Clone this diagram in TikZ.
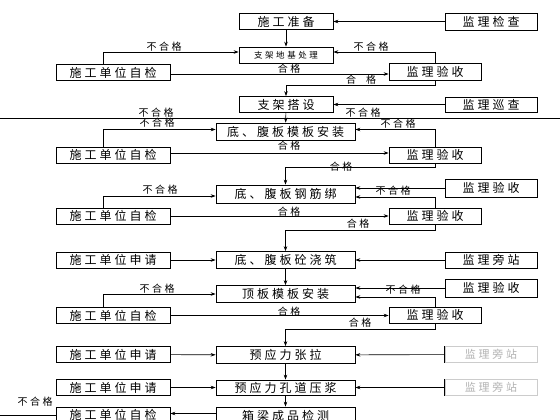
\documentclass[tikz,border=0pt]{standalone}
\usepackage{fontspec}
\setmainfont{Noto Sans CJK SC}[LetterSpace=25]
\usetikzlibrary{arrows.meta,calc}
\begin{document}
\begin{tikzpicture}[x=1pt,y=-1pt,
  bx/.style={draw,line width=0.7pt,inner sep=0pt,font=\fontsize{12}{12}\selectfont},
  cbox/.style={bx,minimum width=94pt,minimum height=16pt},
  wbox/.style={bx,minimum width=139pt,minimum height=17pt},
  lbox/.style={bx,minimum width=114pt,minimum height=16pt},
  rbox/.style={bx,minimum width=92pt,minimum height=17pt},
  fbox/.style={draw=gray!40,line width=0.5pt,text=gray!60,inner sep=0pt,minimum width=92pt,minimum height=16pt,font=\fontsize{11}{11}\selectfont},
  lbl/.style={font=\fontsize{10}{10}\selectfont,inner sep=0pt},
  arr/.style={line width=0.6pt,-{Stealth[length=5pt,width=3.5pt]}},
  ln/.style={line width=0.6pt}]
\useasboundingbox (0,0) rectangle (560,420);
\fill[white] (0,0) rectangle (560,420);
% centre column
\node[cbox] (c1) at (286,21.5) {施工准备};
\node[cbox,font=\fontsize{8.5}{8.5}\selectfont\addfontfeature{LetterSpace=30}] (c2) at (286,55) {支架地基处理};
\node[cbox] (c3) at (286,104.5) {支架搭设};
\node[wbox] (c4) at (285.5,131.5) {底、腹板模板安装};
\node[wbox,minimum height=18pt] (c5) at (285.5,194) {底、腹板钢筋绑};
\node[wbox] (c6) at (285.5,260) {底、腹板砼浇筑};
\node[wbox] (c7) at (285.5,294) {顶板模板安装};
\node[wbox] (c8) at (285.5,355) {预应力张拉};
\node[wbox,minimum height=15pt] (c9) at (285.5,387.5) {预应力孔道压浆};
\node[wbox] (c10) at (285.5,415.5) {箱梁成品检测};
% left column
\node[lbox] (l1) at (113,72.5) {施工单位自检};
\node[lbox] (l2) at (113,155) {施工单位自检};
\node[lbox] (l3) at (113,216) {施工单位自检};
\node[lbox] (l4) at (113,260) {施工单位申请};
\node[lbox] (l5) at (113,315.5) {施工单位自检};
\node[lbox] (l6) at (113,354.5) {施工单位申请};
\node[lbox] (l7) at (113,387.5) {施工单位申请};
\node[lbox] (l8) at (113,415) {施工单位自检};
% right column
\node[rbox] (r1) at (491,21.5) {监理检查};
\node[rbox,minimum height=15pt] (r2) at (491,104.5) {监理巡查};
\node[rbox,minimum height=18pt] (r3) at (491,188) {监理验收};
\node[rbox,minimum height=16pt] (r4) at (491,260) {监理旁站};
\node[rbox,minimum height=18pt] (r5) at (491,288) {监理验收};
\node[fbox] (r6) at (491,354.5) {监理旁站};
\node[fbox] (r7) at (491,387.5) {监理旁站};
\draw[ln] (r6.north west) -- (r6.south west);
\draw[ln] (r7.north west) -- (r7.south west);
% middle column
\node[rbox] (m1) at (435,71.5) {监理验收};
\node[rbox,minimum height=16pt] (m2) at (435,155) {监理验收};
\node[rbox,minimum height=16pt] (m3) at (435,216) {监理验收};
\node[rbox,minimum height=16pt] (m4) at (435,315) {监理验收};
% page line
\coordinate (pl) at (0,118);
\coordinate (pr) at (560,118);
\draw[ln] (pl) -- (pr);
% section 1
\draw[arr] (c1) -- (c2);
\draw[arr] (r1) -- (c1);
\draw[arr] ([xshift=-10pt]l1.north) |- ([yshift=3pt]c2.west);
\draw[arr] ([yshift=-1.5pt]l1.east) -- ([yshift=-1.5pt]l1.east -| m1.west);
\draw[arr] (m1.north) |- ([yshift=3pt]c2.east);
\draw[arr] (m1.south) -- ++(0,5) -| (c3.north);
\draw[arr] (r2) -- (c3);
\draw[arr] (c3) -- (c4);
% section 2
\draw[arr] ([xshift=-10pt]l2.north) |- ([yshift=2pt]c4.west);
\draw[arr] ([yshift=2pt]l2.east) -- ([yshift=2pt]l2.east -| m2.west);
\draw[arr] (m2.north) |- ([yshift=2pt]c4.east);
\draw[arr] (m2.south) -- ++(0,4) -| (c5.north);
% section 3
\draw[arr] ([xshift=-10pt]l3.north) |- ([yshift=-2pt]c5.west);
\draw[arr] (r3.west) -- (r3.west -| c5.east);
\draw[arr] (m3.north) |- ([yshift=-3pt]c5.east);
\draw[arr] (l3.east) -- (l3.east -| m3.west);
\draw[arr] (m3.south) -- ++(0,6) -| (c6.north);
% section 4
\draw[arr] (l4) -- (c6);
\draw[arr] (r4) -- (c6);
\draw[arr] (c6) -- (c7);
% section 5
\draw[arr] ([xshift=-10pt]l5.north) |- (c7.west);
\draw[arr] (r5.west) -- (r5.west -| c7.east);
\draw[arr] (m4.north) |- ([yshift=-3pt]c7.east);
\draw[arr] (l5.east) -- (l5.east -| m4.west);
\draw[arr] (m4.south) -- ++(0,6) -| (c8.north);
% sections 6-8
\draw[arr] (l6) -- (c8);
\draw[arr] (r6) -- (c8);
\draw[arr] (c8) -- (c9);
\draw[arr] (l7) -- (c9);
\draw[arr] (r7) -- (c9);
\draw[arr] (c9) -- (c10);
\draw[arr] ([yshift=2pt]c10.west) -- ([yshift=2pt]c10.west -| l8.east);
\draw[ln] (l8.west) -- (l8.west -| pl);
% labels
\node[lbl] (t1) at (164,47) {不合格};
\node[lbl] (t2) at (371,47) {不合格};
\node[lbl] (t3) at (289,69) {合格};
\node[lbl] (t4) at (361,80) {合\quad 格};
\node[lbl] (t5) at (156,113) {不合格};
\node[lbl] (t6) at (363,113) {不合格};
\node[lbl] (t7) at (157,123) {不合格};
\node[lbl] (t8) at (398,124) {不合格};
\node[lbl] (t9) at (289,146) {合格};
\node[lbl] (t10) at (341,167) {合格};
\node[lbl] (t11) at (160,190) {不合格};
\node[lbl] (t12) at (393,191) {不合格};
\node[lbl] (t13) at (289,212) {合格};
\node[lbl] (t14) at (358,224) {合格};
\node[lbl] (t15) at (157,289) {不合格};
\node[lbl] (t16) at (403,290) {不合格};
\node[lbl] (t17) at (289,312) {合格};
\node[lbl] (t18) at (360,323) {合格};
\node[lbl] (t19) at (35,402) {不合格};
\end{tikzpicture}
\end{document}
